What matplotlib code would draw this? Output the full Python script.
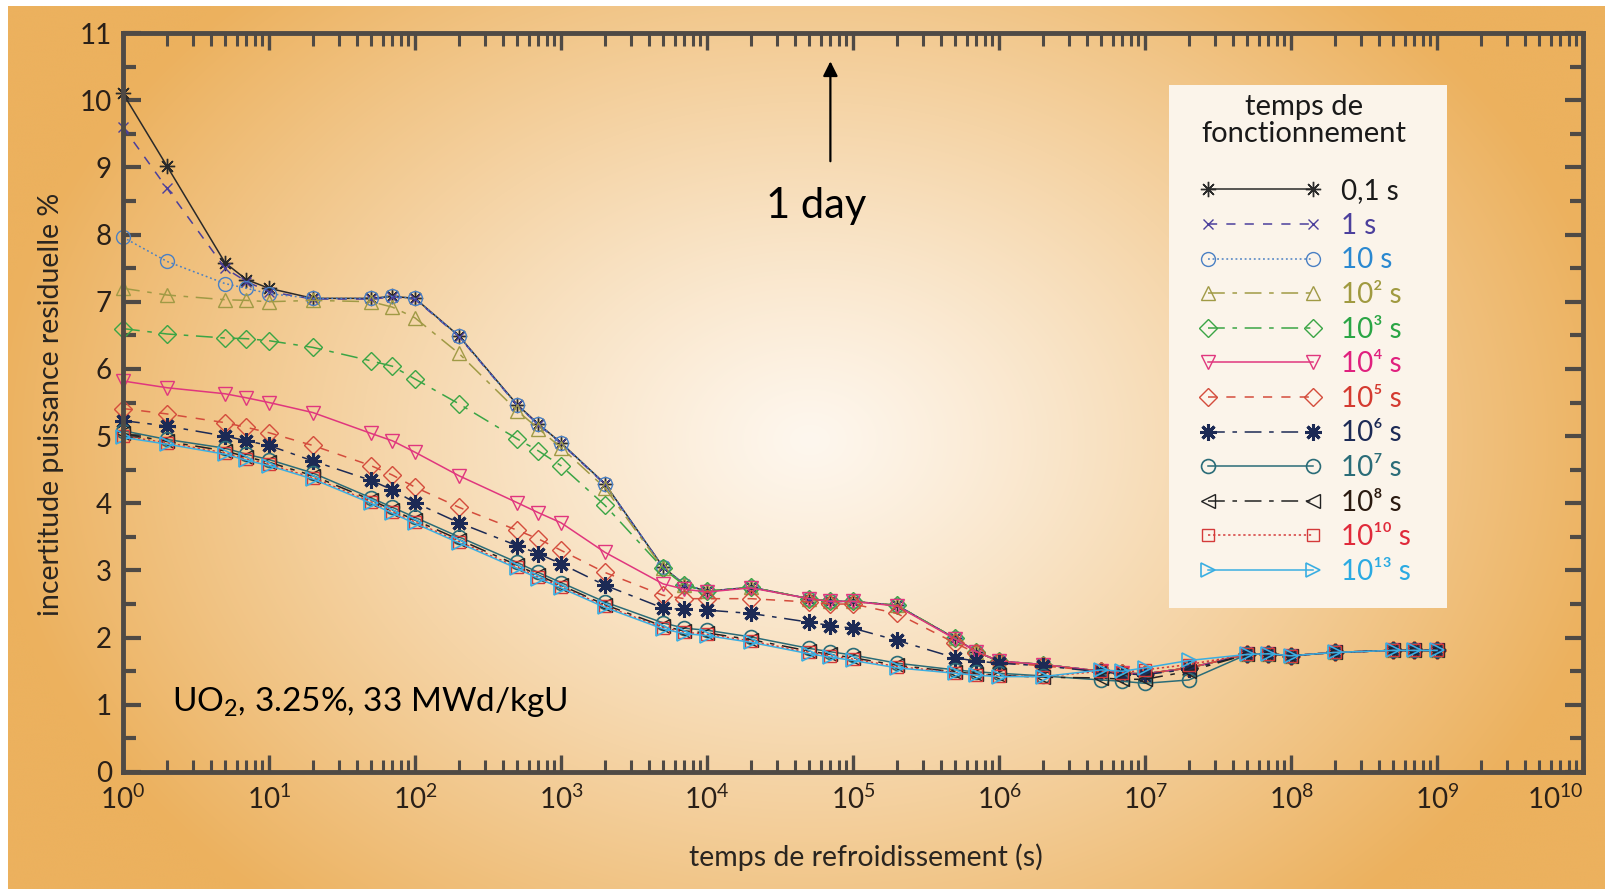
import numpy as np
import matplotlib
matplotlib.use("Agg")
import matplotlib.pyplot as plt
from matplotlib.ticker import FixedLocator, LogLocator, MultipleLocator, NullFormatter
from matplotlib.patches import Rectangle

plt.rcParams['font.family'] = ['Lato', 'DejaVu Sans']
plt.rcParams['mathtext.fontset'] = 'custom'
plt.rcParams['mathtext.rm'] = 'Lato'
plt.rcParams['mathtext.it'] = 'Lato:italic'
plt.rcParams['mathtext.bf'] = 'Lato:bold'

# ---------------- data ----------------
cooling_time = [1, 2, 5, 7, 10, 20, 50, 70, 100, 200, 500, 700, 1e3, 2e3, 5e3, 7e3,
                1e4, 2e4, 5e4, 7e4, 1e5, 2e5, 5e5, 7e5, 1e6, 2e6, 5e6, 7e6, 1e7, 2e7,
                5e7, 7e7, 1e8, 2e8, 5e8, 7e8, 1e9]

u_0p1s = [10.1, 9.02, 7.58, 7.33, 7.2, 7.05, 7.05, 7.08, 7.05, 6.49, 5.47, 5.18, 4.9, 4.29, 3.05, 2.79,
          2.69, 2.75, 2.58, 2.54, 2.54, 2.48, 1.99, 1.79, 1.65, 1.60, 1.50, 1.47, 1.46, 1.55,
          1.75, 1.76, 1.73, 1.78, 1.81, 1.81, 1.81]
u_1s = [9.6, 8.69, 7.5, 7.3, 7.15, 7.04, 7.04, 7.07, 7.04, 6.48, 5.46, 5.17, 4.89, 4.28, 3.05, 2.79,
        2.69, 2.75, 2.58, 2.54, 2.54, 2.48, 1.99, 1.79, 1.65, 1.60, 1.50, 1.47, 1.46, 1.55,
        1.75, 1.76, 1.73, 1.78, 1.81, 1.81, 1.81]
u_10s = [7.96, 7.6, 7.27, 7.2, 7.12, 7.05, 7.05, 7.08, 7.05, 6.49, 5.46, 5.18, 4.9, 4.29, 3.05, 2.79,
         2.69, 2.75, 2.58, 2.54, 2.54, 2.48, 1.99, 1.79, 1.65, 1.60, 1.50, 1.47, 1.46, 1.55,
         1.75, 1.76, 1.73, 1.78, 1.81, 1.81, 1.81]
u_1e2s = [7.2, 7.1, 7.03, 7.02, 7.0, 7.02, 7.0, 6.92, 6.76, 6.23, 5.38, 5.11, 4.83, 4.23, 3.03, 2.78,
          2.69, 2.75, 2.58, 2.54, 2.54, 2.48, 1.99, 1.79, 1.65, 1.60, 1.50, 1.47, 1.46, 1.55,
          1.75, 1.76, 1.73, 1.78, 1.81, 1.81, 1.81]
u_1e3s = [6.6, 6.52, 6.46, 6.45, 6.42, 6.32, 6.12, 6.04, 5.85, 5.48, 4.96, 4.78, 4.56, 3.97, 3.03, 2.78,
          2.69, 2.75, 2.58, 2.54, 2.54, 2.48, 1.99, 1.79, 1.65, 1.60, 1.50, 1.47, 1.46, 1.55,
          1.75, 1.76, 1.73, 1.78, 1.81, 1.81, 1.81]
u_1e4s = [5.82, 5.72, 5.63, 5.57, 5.5, 5.35, 5.04, 4.93, 4.76, 4.41, 4.01, 3.86, 3.71, 3.27, 2.8, 2.72,
          2.68, 2.74, 2.58, 2.54, 2.54, 2.47, 1.98, 1.79, 1.65, 1.60, 1.50, 1.47, 1.46, 1.55,
          1.75, 1.76, 1.73, 1.78, 1.81, 1.81, 1.81]
u_1e5s = [5.41, 5.33, 5.2, 5.13, 5.05, 4.86, 4.56, 4.42, 4.24, 3.94, 3.6, 3.47, 3.3, 2.97, 2.63, 2.58,
          2.58, 2.58, 2.53, 2.5, 2.5, 2.36, 1.92, 1.77, 1.63, 1.58, 1.50, 1.47, 1.46, 1.55,
          1.75, 1.76, 1.73, 1.78, 1.81, 1.81, 1.81]
u_1e6s = [5.23, 5.15, 5.0, 4.93, 4.86, 4.63, 4.34, 4.2, 4.01, 3.71, 3.37, 3.25, 3.1, 2.78, 2.44, 2.42,
          2.41, 2.36, 2.23, 2.18, 2.14, 1.96, 1.70, 1.65, 1.62, 1.58, 1.49, 1.46, 1.45, 1.53,
          1.75, 1.76, 1.73, 1.78, 1.81, 1.81, 1.81]
u_1e7s = [5.08, 4.95, 4.82, 4.73, 4.65, 4.45, 4.08, 3.94, 3.79, 3.5, 3.12, 2.97, 2.82, 2.53, 2.22, 2.14,
          2.11, 2.01, 1.84, 1.79, 1.74, 1.62, 1.52, 1.49, 1.47, 1.43, 1.37, 1.35, 1.32, 1.37,
          1.75, 1.76, 1.73, 1.78, 1.81, 1.81, 1.81]
u_1e8s = [5.04, 4.92, 4.78, 4.69, 4.61, 4.41, 4.05, 3.9, 3.75, 3.46, 3.08, 2.93, 2.78, 2.49, 2.17, 2.1,
          2.07, 1.97, 1.8, 1.75, 1.7, 1.59, 1.49, 1.46, 1.44, 1.41, 1.40, 1.38, 1.38, 1.50,
          1.75, 1.76, 1.73, 1.78, 1.81, 1.81, 1.81]
u_1e10s = [5.0, 4.9, 4.75, 4.66, 4.58, 4.38, 4.02, 3.87, 3.72, 3.43, 3.05, 2.9, 2.76, 2.47, 2.15, 2.08,
           2.05, 1.95, 1.78, 1.73, 1.68, 1.57, 1.48, 1.45, 1.43, 1.42, 1.50, 1.48, 1.52, 1.60,
           1.75, 1.76, 1.73, 1.78, 1.81, 1.81, 1.81]
u_1e13s = [4.98, 4.88, 4.73, 4.64, 4.56, 4.36, 4.0, 3.85, 3.7, 3.41, 3.03, 2.88, 2.74, 2.45, 2.13, 2.06,
           2.03, 1.93, 1.76, 1.71, 1.66, 1.55, 1.47, 1.44, 1.42, 1.42, 1.52, 1.50, 1.55, 1.66,
           1.75, 1.76, 1.73, 1.78, 1.81, 1.81, 1.81]

series_values = [u_0p1s, u_1s, u_10s, u_1e2s, u_1e3s, u_1e4s, u_1e5s, u_1e6s, u_1e7s, u_1e8s, u_1e10s, u_1e13s]
series_labels = ['0,1 s', '1 s', '10 s', '10² s', '10³ s', '10⁴ s', '10⁵ s',
                 '10⁶ s', '10⁷ s', '10⁸ s', '10¹⁰ s', '10¹³ s']
x_tick_exponents = list(range(0, 11))
x_tick_labels = ['10$^{%d}$' % e for e in x_tick_exponents]
y_ticks = list(range(0, 12))

# ---------------- styles ----------------
ASTER = (8, 2, 0)
styles = [
    dict(color='#2a2a2a', ls='-', marker=ASTER, ms=11, mew=1.0),
    dict(color='#4b3f9c', ls=(0, (6, 6)), marker='x', ms=7, mew=1.0),
    dict(color='#4a80c4', ls=(0, (1.2, 1.8)), marker='o', ms=10, mew=1.0),
    dict(color='#a09a45', ls=(0, (11, 5, 3, 5)), marker='^', ms=10, mew=1.0),
    dict(color='#3aa545', ls=(0, (11, 5, 3, 5)), marker='D', ms=9, mew=1.0),
    dict(color='#e0367e', ls='-', marker='v', ms=10, mew=1.0),
    dict(color='#d44c3c', ls=(0, (6, 6)), marker='D', ms=9, mew=1.0),
    dict(color='#1c2a55', ls=(0, (11, 5, 3, 5)), marker=ASTER, ms=12, mew=2.2),
    dict(color='#2a6c78', ls='-', marker='o', ms=10, mew=1.2),
    dict(color='#222222', ls=(0, (11, 5, 3, 5)), marker='<', ms=10, mew=1.0),
    dict(color='#d43a3a', ls=(0, (1.5, 1.8)), marker='s', ms=8, mew=1.0),
    dict(color='#3aaee2', ls='-', marker='>', ms=10, mew=1.2),
]
legend_text_colors = ['#1a1a1a', '#4b3f9c', '#2a88d0', '#a09a40', '#2aa545', '#e0207e',
                      '#d43a30', '#1c2a55', '#2a6c78', '#2a1a10', '#e02a3a', '#2aaae2']

W, H = 1605, 889
fig = plt.figure(figsize=(W / 100, H / 100), dpi=100)

# background radial gradient
bg = fig.add_axes([8 / W, 0, 1 - 8 / W, 1 - 6 / H])
bg.axis('off')
gx = np.linspace(8, W, 400)
gy = np.linspace(6, H, 240)
GX, GY = np.meshgrid(gx, gy)
r = np.sqrt(((GX - 810) / 820) ** 2 + ((GY - 440) / 620) ** 2)
t = np.clip(r, 0, 1) ** 1.15
c_center = np.array([254, 247, 238]) / 255
c_edge = np.array([236, 177, 94]) / 255
img = c_center[None, None, :] * (1 - t[..., None]) + c_edge[None, None, :] * t[..., None]
bg.imshow(img, aspect='auto', extent=[0, 1, 0, 1], origin='upper', interpolation='bicubic')

# main axes
ax = fig.add_axes([123 / W, 1 - 772 / H, 1460 / W, 739 / H])
ax.set_facecolor('none')
ax.set_xscale('log')
ax.set_xlim(1, 1e10)
ax.set_ylim(0, 11)

handles = []
for vals, lab, st in zip(series_values, series_labels, styles):
    ln, = ax.plot(cooling_time, vals, color=st['color'], ls=st['ls'], lw=1.1,
                  marker=st['marker'], ms=st['ms'], mew=st['mew'], mfc='none',
                  mec=st['color'], label=lab, clip_on=False)
    handles.append(ln)

spine_c = '#4f4a45'
for s in ax.spines.values():
    s.set_color(spine_c)
    s.set_linewidth(3.5)

ax.set_xticks([10.0 ** e for e in x_tick_exponents], labels=x_tick_labels)
ax.get_xticklabels()[-1].set_horizontalalignment('right')
ax.xaxis.set_minor_locator(LogLocator(base=10, subs=np.arange(2, 10), numticks=100))
ax.xaxis.set_minor_formatter(NullFormatter())
ax.yaxis.set_major_locator(FixedLocator(y_ticks))
ax.yaxis.set_minor_locator(MultipleLocator(0.5))

ax.tick_params(axis='both', which='both', direction='in', top=True, right=True,
               color=spine_c, labelcolor='#2a2018')
ax.tick_params(axis='x', which='major', length=12.5, width=2.4, labelsize=20, pad=9)
ax.tick_params(axis='x', which='minor', length=9, width=2.2)
ax.tick_params(axis='y', which='major', length=13, width=3, labelsize=20, pad=8)
ax.tick_params(axis='y', which='minor', length=9.5, width=3)

ax.set_xlabel('temps de refroidissement (s)', fontsize=20.5, color='#2a2520')
ax.xaxis.set_label_coords(0.509, -0.096)
ax.set_ylabel('incertitude puissance residuelle %', fontsize=20.5, color='#2a2520')
ax.yaxis.set_label_coords(-0.0403, 0.498)

# annotations
ax.annotate('', xy=(7e4, 10.62), xytext=(7e4, 9.05),
            arrowprops=dict(arrowstyle='-|>', color='black', lw=1.6, mutation_scale=22))
ax.text(5.6e4, 8.43, '1 day', fontsize=30, ha='center', va='center', color='black')
ax.text(2.17, 1.04, 'UO$_2$, 3.25%, 33 MWd/kgU', fontsize=24, ha='left', va='center', color='black')

# legend box, title and entries
ax.add_patch(Rectangle((0.7164, 0.2219), 0.1904, 0.7077, transform=ax.transAxes,
                       facecolor='#fbf4ea', edgecolor='none', zorder=4))
ax.text(0.809, 0.881, 'temps de\nfonctionnement', transform=ax.transAxes, fontsize=21,
        ha='center', va='center', linespacing=1.05, color='#1a1a1a', zorder=5)
leg = ax.legend(handles=handles, loc='upper left', bbox_to_anchor=(0.7377, 0.8037),
                fontsize=20, numpoints=2, handlelength=4.35, handletextpad=0.72,
                labelspacing=0.31, borderpad=0, borderaxespad=0, frameon=False,
                labelcolor=legend_text_colors)
leg.set_zorder(6)

fig.savefig('out.png', dpi=100)
